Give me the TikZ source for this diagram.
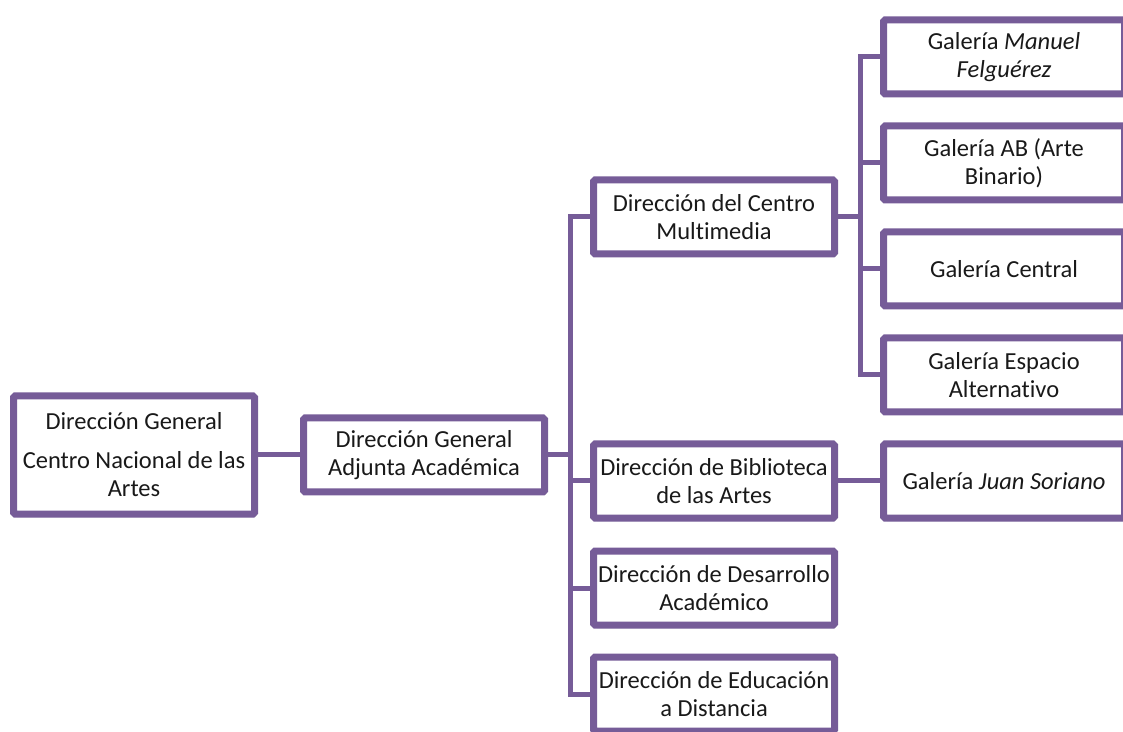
\documentclass[tikz,border=0pt]{standalone}
\usepackage{fontspec}
\setmainfont{Carlito}[Ligatures=NoCommon]
\usepackage{tikz}
\usetikzlibrary{shadows}

\definecolor{orgpurple}{RGB}{118,92,152}
\definecolor{orgtext}{RGB}{25,25,25}

\tikzset{
  orgbox/.style={draw=orgpurple, line width=7pt, fill=white, rounded corners=1.5pt,
    minimum width=241pt, minimum height=74pt, inner sep=0pt, align=center,
    text=orgtext, font=\fontsize{24.5}{28}\selectfont,
    drop shadow={shadow xshift=2pt, shadow yshift=-3pt, opacity=0.25, fill=black}},
  conn/.style={draw=orgpurple, line width=5pt}
}

\begin{document}
\begin{tikzpicture}[x=1pt, y=1pt]
                % marco
                \clip (0,0) rectangle (1123,731);

                % direcciones
                \node[orgbox, minimum height=118pt] (dg) at (134,276)
                  {Dirección General\\[11pt]Centro Nacional de las\\Artes};
                \node[orgbox] (dgaa) at (424,276) {Dirección General\\Adjunta Académica};
                \node[orgbox] (dcm) at (714,514) {Dirección del Centro\\Multimedia};
                \node[orgbox] (dba) at (714,250) {Dirección de Biblioteca\\de las Artes};
                \node[orgbox] (dda) at (714,143) {Dirección de Desarrollo\\Académico};
                \node[orgbox] (ded) at (714,37) {Dirección de Educación\\a Distancia};

                % galerias
                \node[orgbox] (gmf) at (1004,674) {Galería \textit{Manuel}\\\textit{Felguérez}};
                \node[orgbox] (gab) at (1004,568) {Galería AB (Arte\\Binario)};
                \node[orgbox] (gc) at (1004,462) {Galería Central};
                \node[orgbox] (gea) at (1004,356) {Galería Espacio\\Alternativo};
                \node[orgbox] (gjs) at (1004,250) {Galería \textit{Juan Soriano}};

                % puntos de ramificacion
                \path (dgaa.east) ++(22,0) coordinate (bus1);
                \path (dcm.east) ++(22,0) coordinate (bus2);

                % conectores
                \draw[conn] (dg.east) -- (dgaa.west);
                \draw[conn] (dgaa.east) -- (bus1);
                \foreach \n in {dcm,dba,dda,ded} \draw[conn] (bus1) |- (\n.west);
                \draw[conn] (dcm.east) -- (bus2);
                \foreach \n in {gmf,gab,gc,gea} \draw[conn] (bus2) |- (\n.west);
                \draw[conn] (dba.east) -- (gjs.west);
            \end{tikzpicture}
\end{document}
